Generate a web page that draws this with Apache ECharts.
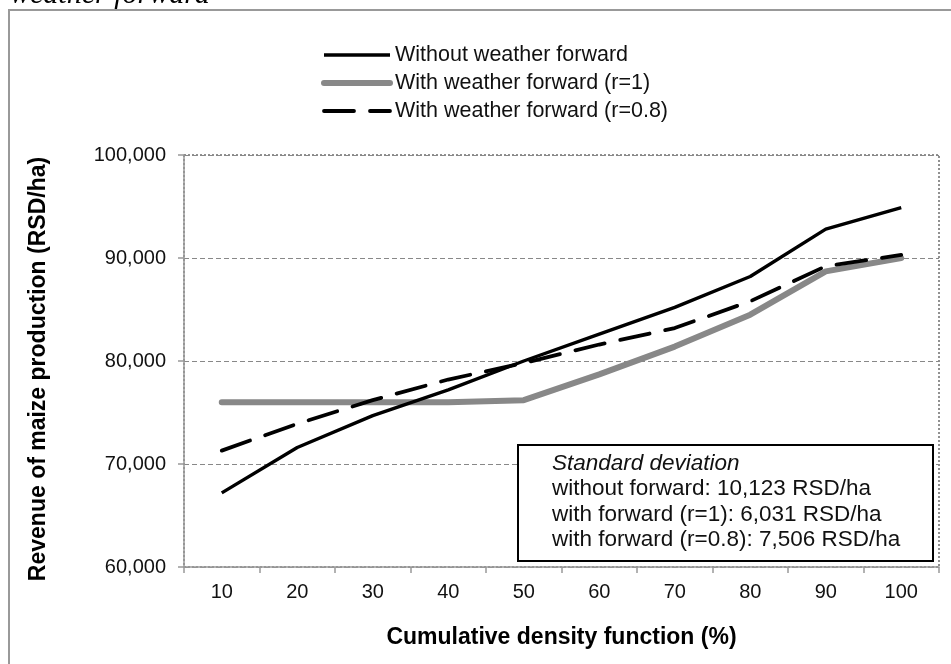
<!DOCTYPE html>
<html>
<head>
<meta charset="utf-8">
<script src="https://cdn.jsdelivr.net/npm/echarts@6/dist/echarts.min.js"></script>
<style>
html,body{margin:0;padding:0;background:#fff;}
#chart{width:951px;height:664px;}
</style>
</head>
<body>
<div id="chart"></div>
<script>
const categories = ['10','20','30','40','50','60','70','80','90','100'];
const withoutForward = [67200, 71600, 74700, 77200, 80000, 82600, 85200, 88200, 92800, 94900];
const withForwardR1 = [76000, 76000, 76000, 76000, 76200, 78700, 81400, 84500, 88700, 90000];
const withForwardR08 = [71300, 73900, 76200, 78200, 79800, 81600, 83200, 85800, 89200, 90300];
const seriesNames = ['Without weather forward', 'With weather forward (r=1)', 'With weather forward (r=0.8)'];
const statsTitle = 'Standard deviation';
const statsLines = ['without forward: 10,123 RSD/ha', 'with forward (r=1): 6,031 RSD/ha', 'with forward (r=0.8): 7,506 RSD/ha'];
const yTicks = {min: 60000, max: 100000, interval: 10000};

const FONT = '"Liberation Sans", Arial, sans-serif';
const chart = echarts.init(document.getElementById('chart'), null, {renderer: 'canvas'});
chart.setOption({
  animation: false,
  backgroundColor: '#fff',
  grid: {left: 184, right: 12, top: 155, bottom: 97, show: true, borderColor: '#222', borderWidth: 1, borderType: [2, 2]},
  legend: {
    orient: 'vertical', left: 316, top: 39, itemWidth: 66, itemHeight: 14, itemGap: 6,
    data: seriesNames,
    itemStyle: {opacity: 0},
    lineStyle: {width: 'inherit'},
    textStyle: {fontFamily: FONT, fontSize: 21.5, color: '#111'}
  },
  xAxis: {
    type: 'category', data: categories, boundaryGap: true,
    name: 'Cumulative density function (%)', nameLocation: 'middle', nameGap: 59,
    nameTextStyle: {fontFamily: FONT, fontSize: 23, fontWeight: 'bold', color: '#000'},
    axisLine: {lineStyle: {color: '#999', width: 1.5}},
    axisTick: {show: true, length: 6, alignWithLabel: false, lineStyle: {color: '#999', width: 1.5}},
    axisLabel: {fontFamily: FONT, fontSize: 20, color: '#111', margin: 15},
    splitLine: {show: false}
  },
  yAxis: {
    type: 'value', min: yTicks.min, max: yTicks.max, interval: yTicks.interval,
    name: 'Revenue of maize production (RSD/ha)', nameLocation: 'middle', nameGap: 134,
    nameTextStyle: {fontFamily: FONT, fontSize: 23, fontWeight: 'bold', color: '#000', padding: [0, 16, 0, 0]},
    axisLine: {show: true, lineStyle: {color: '#999', width: 1.5}},
    axisTick: {show: true, length: 6, lineStyle: {color: '#999', width: 1.5}},
    axisLabel: {fontFamily: FONT, fontSize: 20, color: '#111', margin: 18,
      formatter: v => v.toLocaleString('en-US')},
    splitLine: {show: true, lineStyle: {color: '#888', width: 1, type: [5, 3]}}
  },
  series: [
    {name: seriesNames[1], type: 'line', data: withForwardR1, symbol: 'none',
      lineStyle: {color: '#888', width: 6, cap: 'round'}, itemStyle: {color: '#888'}},
    {name: seriesNames[2], type: 'line', data: withForwardR08, symbol: 'none',
      lineStyle: {color: '#000', width: 3.8, type: [30, 16], cap: 'round'}, itemStyle: {color: '#000'}},
    {name: seriesNames[0], type: 'line', data: withoutForward, symbol: 'none',
      lineStyle: {color: '#000', width: 3.4}, itemStyle: {color: '#000'}}
  ],
  graphic: [
    {type: 'rect', silent: true, z: -1, shape: {x: 9, y: 10, width: 1000, height: 800},
      style: {fill: 'none', stroke: '#999', lineWidth: 2}},
    {type: 'text', silent: true, left: 10, top: -20,
      style: {text: 'weather forward', font: 'italic 30px "Liberation Serif", "Times New Roman", serif', fill: '#000'}},
    {type: 'rect', z: 100, silent: true, shape: {x: 518, y: 445, width: 415, height: 116},
      style: {fill: '#fff', stroke: '#000', lineWidth: 2}},
    {type: 'text', z: 101, silent: true, x: 552, y: 451,
      style: {
        text: '{i|' + statsTitle + '}\n' + statsLines.map(s => '{n|' + s + '}').join('\n'),
        rich: {
          i: {fontFamily: FONT, fontSize: 22.5, fontStyle: 'italic', fill: '#111', lineHeight: 25.5},
          n: {fontFamily: FONT, fontSize: 22.5, fill: '#111', lineHeight: 25.5}
        }
      }}
  ]
});
</script>
</body>
</html>
